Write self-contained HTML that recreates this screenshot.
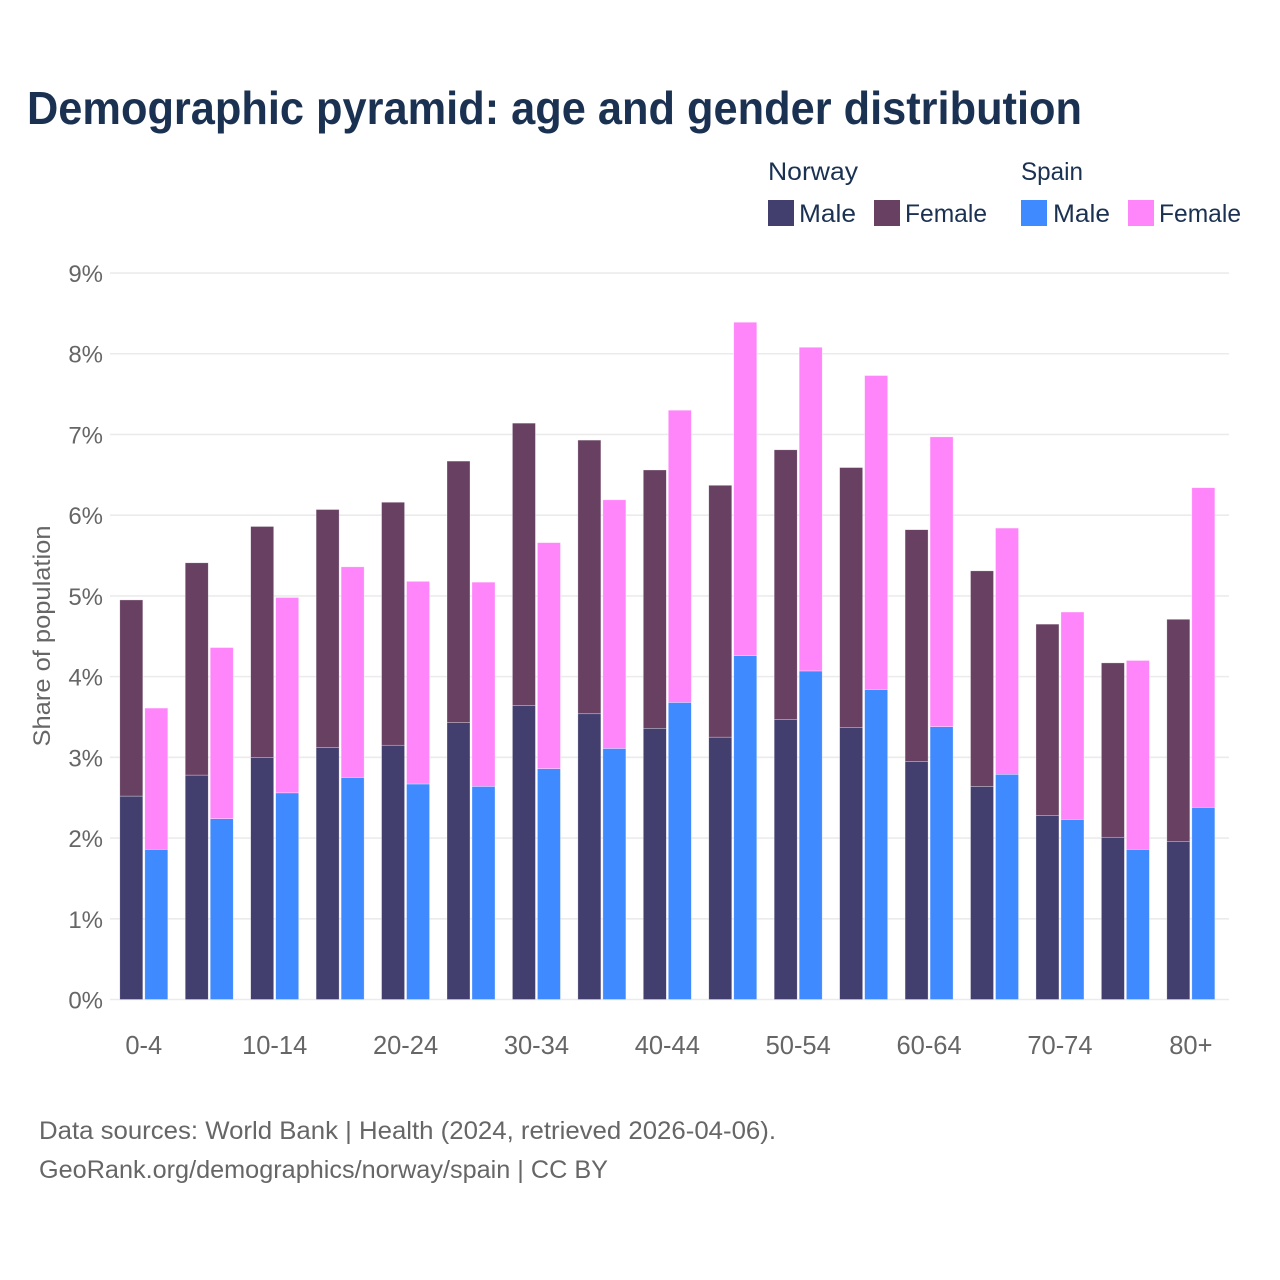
<!DOCTYPE html>
<html>
<head>
<meta charset="utf-8">
<title>Demographic pyramid</title>
<style>
html,body{margin:0;padding:0;background:#fff;width:1280px;height:1280px;overflow:hidden}
svg{display:block}
text{font-family:"Liberation Sans",sans-serif}
</style>
</head>
<body>
<svg id="chart" width="1280" height="1280" viewBox="0 0 1280 1280" xmlns="http://www.w3.org/2000/svg">
<rect width="1280" height="1280" fill="#ffffff"/>
<text x="27" y="124" font-size="46" font-weight="700" fill="#1a3152" textLength="1055" lengthAdjust="spacingAndGlyphs">Demographic pyramid: age and gender distribution</text>

<g>
<text x="768" y="180" font-size="25" fill="#1a3152" textLength="90" lengthAdjust="spacingAndGlyphs">Norway</text>
<text x="1021" y="180" font-size="25" fill="#1a3152" textLength="62" lengthAdjust="spacingAndGlyphs">Spain</text>
<rect x="768" y="200" width="26" height="26" fill="#423e6e"/>
<text x="799" y="222" font-size="25" fill="#1a3152" textLength="57" lengthAdjust="spacingAndGlyphs">Male</text>
<rect x="874" y="200" width="26" height="26" fill="#674062"/>
<text x="905" y="222" font-size="25" fill="#1a3152" textLength="82" lengthAdjust="spacingAndGlyphs">Female</text>
<rect x="1021" y="200" width="26" height="26" fill="#408aff"/>
<text x="1053" y="222" font-size="25" fill="#1a3152" textLength="57" lengthAdjust="spacingAndGlyphs">Male</text>
<rect x="1128" y="200" width="26" height="26" fill="#ff85fa"/>
<text x="1159" y="222" font-size="25" fill="#1a3152" textLength="82" lengthAdjust="spacingAndGlyphs">Female</text>
</g>

<g id="grid"></g>
<g id="yticks"></g>
<g id="bars"></g>
<g id="xticks"></g>

<text transform="translate(50,636) rotate(-90)" text-anchor="middle" font-size="24" fill="#666666" textLength="221" lengthAdjust="spacingAndGlyphs">Share of population</text>

<text x="39" y="1139" font-size="25" fill="#666666" textLength="737" lengthAdjust="spacingAndGlyphs">Data sources: World Bank | Health (2024, retrieved 2026-04-06).</text>
<text x="39" y="1178" font-size="25" fill="#666666" textLength="569" lengthAdjust="spacingAndGlyphs">GeoRank.org/demographics/norway/spain | CC BY</text>
</svg>
<script>
const ageGroups = ['0-4','5-9','10-14','15-19','20-24','25-29','30-34','35-39','40-44','45-49','50-54','55-59','60-64','65-69','70-74','75-79','80+'];
const norwayMale = [2.52,2.78,3.00,3.12,3.15,3.43,3.64,3.54,3.36,3.25,3.47,3.37,2.95,2.64,2.28,2.01,1.96];
const norwayFemale = [2.43,2.63,2.86,2.95,3.01,3.24,3.50,3.39,3.20,3.12,3.34,3.22,2.87,2.67,2.37,2.16,2.75];
const spainMale = [1.86,2.24,2.56,2.75,2.67,2.64,2.86,3.11,3.68,4.26,4.07,3.84,3.38,2.79,2.23,1.86,2.38];
const spainFemale = [1.75,2.12,2.42,2.61,2.51,2.53,2.80,3.08,3.62,4.13,4.01,3.89,3.59,3.05,2.57,2.34,3.96];
const yTickValues = [0,1,2,3,4,5,6,7,8,9];
const xTickEvery = 2;

const NS = 'http://www.w3.org/2000/svg';
const yScale = v => 999.5 - v * 80.72;
const groupX = i => 119.8 + i * 65.44;
const barWidth = 23;
const spainOffset = 25;

function make(tag, attrs, parent) {
  const el = document.createElementNS(NS, tag);
  for (const k in attrs) el.setAttribute(k, attrs[k]);
  parent.appendChild(el);
  return el;
}

const grid = document.getElementById('grid');
const yticks = document.getElementById('yticks');
yTickValues.forEach(v => {
  const line = make('line', {x1:110, x2:1229, y1:yScale(v), y2:yScale(v), stroke:'#ebebeb', 'stroke-width':1.6}, grid);
  
  
  const t = make('text', {x:103, y:yScale(v)+9, 'text-anchor':'end', 'font-size':24, fill:'#666666'}, yticks);
  t.textContent = v + '%';
  
  
});

const barsG = document.getElementById('bars');
function stack(i, x, male, female, maleColor, femaleColor, country) {
  const m = make('rect', {x:x, y:yScale(male), width:barWidth, height:yScale(0)-yScale(male), fill:maleColor, stroke:'#ffffff', 'stroke-opacity':0.5, 'stroke-width':0.6}, barsG);
  
  
  const f = make('rect', {x:x, y:yScale(male+female), width:barWidth, height:yScale(male)-yScale(male+female), fill:femaleColor, stroke:'#ffffff', 'stroke-opacity':0.5, 'stroke-width':0.6}, barsG);
  
  
}
ageGroups.forEach((g, i) => {
  stack(i, groupX(i), norwayMale[i], norwayFemale[i], '#423e6e', '#674062', 'norway');
  stack(i, groupX(i) + spainOffset, spainMale[i], spainFemale[i], '#408aff', '#ff85fa', 'spain');
});

const xticks = document.getElementById('xticks');
ageGroups.forEach((g, i) => {
  if (i % xTickEvery !== 0) return;
  const t = make('text', {x:groupX(i)+24, y:1054, 'text-anchor':'middle', 'font-size':25.5, fill:'#666666'}, xticks);
  t.textContent = g;
  
  
});
</script>
</body>
</html>
